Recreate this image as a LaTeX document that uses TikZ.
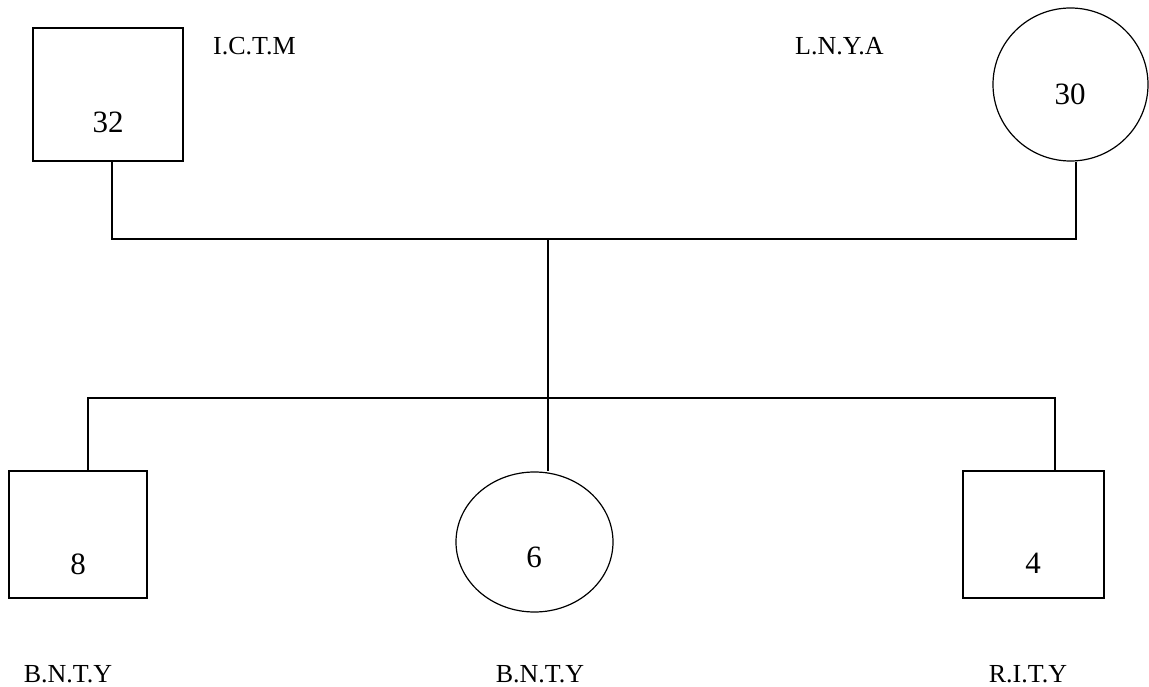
\documentclass[tikz,border=0pt]{standalone}
\usepackage{fontspec}
\setmainfont{Liberation Serif}
\usetikzlibrary{shapes.geometric}
\tikzset{
  sq/.style={draw, line width=1.2pt, rectangle, inner sep=0pt},
  ell/.style={draw, line width=1.2pt, ellipse, inner sep=0pt},
  num/.style={inner sep=0pt, font=\fontsize{31}{37}\selectfont},
  lbl/.style={inner sep=0pt, font=\fontsize{26}{31}\selectfont, anchor=base},
  conn/.style={line width=1.2pt}
}
\begin{document}
\begin{tikzpicture}[x=1pt,y=-1pt]
\useasboundingbox (0,0) rectangle (1149,687);
% parents
\node[sq, minimum width=150pt, minimum height=133pt] (father) at (108,94.5) {};
\node[num] (n32) at (108,122.5) {32};
\node[lbl, anchor=base west] (ictm) at (213,55) {I.C.T.M};
\node[ell, minimum width=155pt, minimum height=153pt] (mother) at (1070.5,84.5) {};
\node[num] (n30) at (1070,94) {30};
\node[lbl, anchor=base west] (lnya) at (795,55) {L.N.Y.A};
% children
\node[sq, minimum width=138pt, minimum height=127pt] (son1) at (78,534.5) {};
\node[num] (n8) at (78,564) {8};
\node[ell, minimum width=157pt, minimum height=140pt] (dau) at (534.5,542) {};
\node[num] (n6) at (534,557) {6};
\node[sq, minimum width=141pt, minimum height=127pt] (son2) at (1033.5,534.5) {};
\node[num] (n4) at (1033,563) {4};
\node[lbl] (l1) at (68,682) {B.N.T.Y};
\node[lbl] (l2) at (540,682) {B.N.T.Y};
\node[lbl] (l3) at (1028,682) {R.I.T.Y};
% junctions
\coordinate (pl) at (112,239);
\coordinate (pr) at (1076,239);
\coordinate (pm) at (548,239);
\coordinate (cl) at (88,398);
\coordinate (cr) at (1055,398);
% connectors
\draw[conn] (father.south -| pl) -- (pl) -- (pr) -- (mother.south -| pr);
\draw[conn] (pm) -- (pm |- dau.north);
\draw[conn] (son1.north -| cl) -- (cl) -- (cr) -- (son2.north -| cr);
\end{tikzpicture}
\end{document}
